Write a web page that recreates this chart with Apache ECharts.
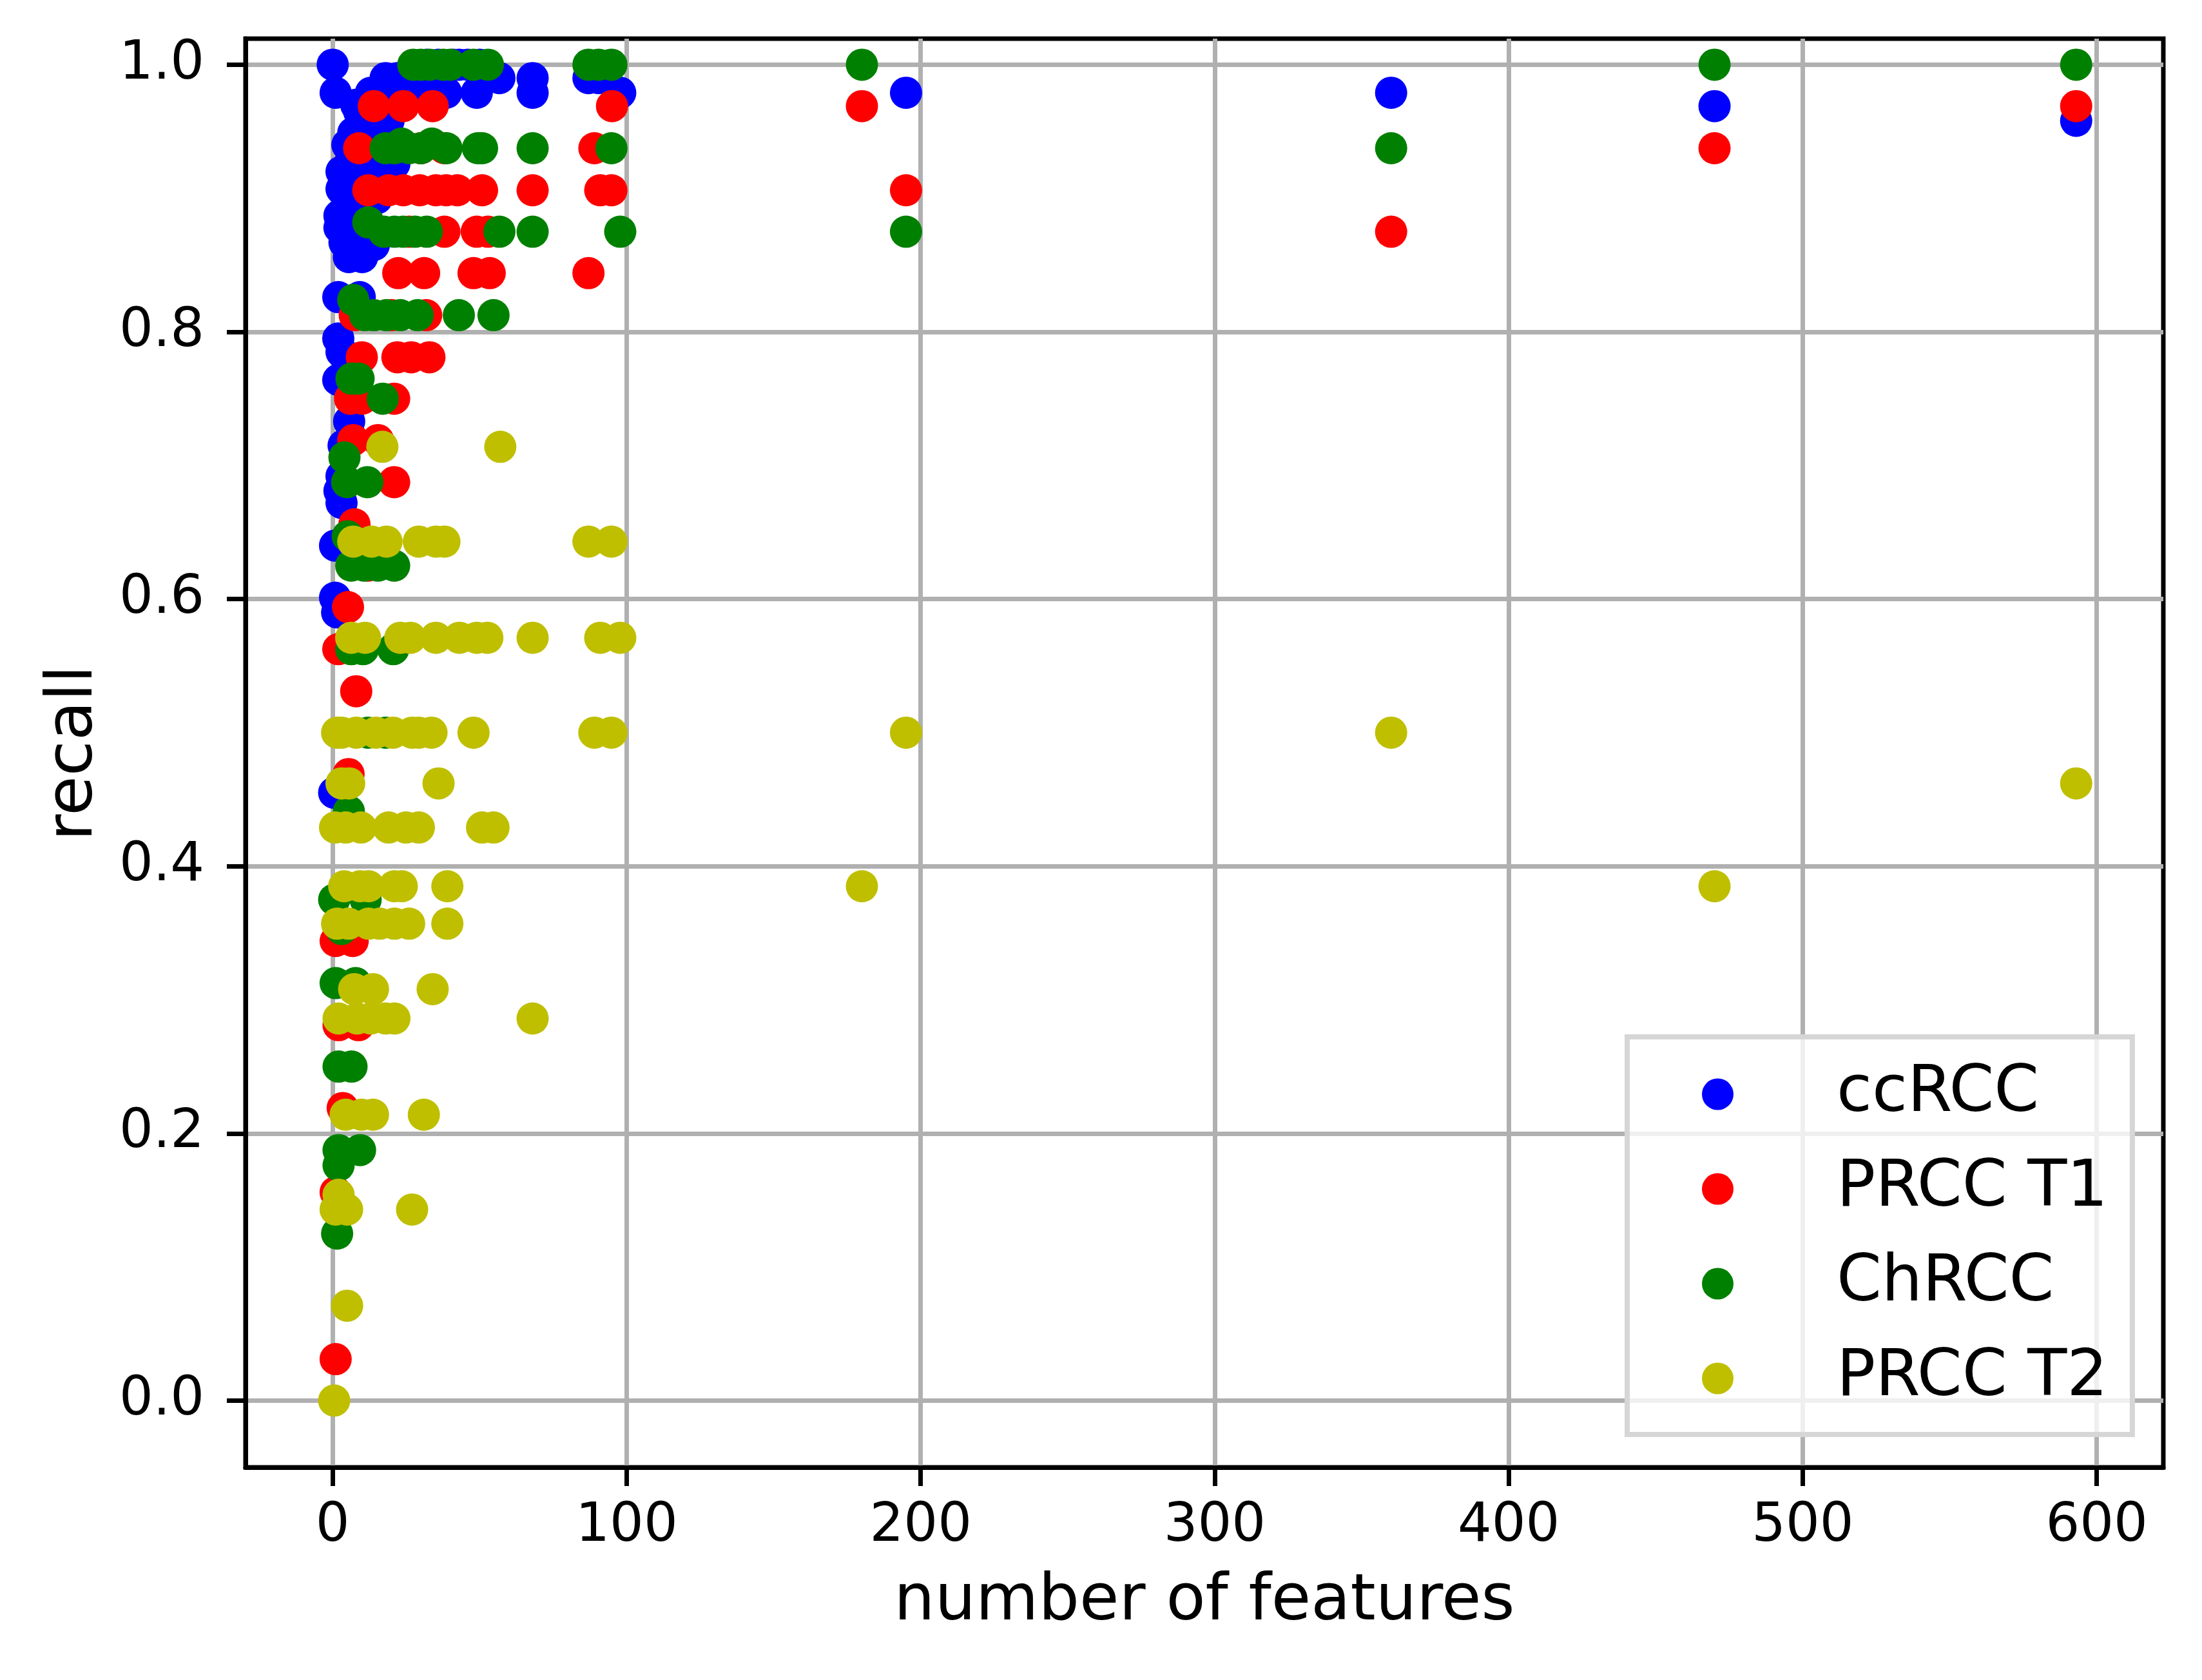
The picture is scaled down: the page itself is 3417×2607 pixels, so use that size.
<!DOCTYPE html>
<html style="height: 100%;width:100%">
<head>
<meta charset="utf-8">
</head>
<body style="height: 100%; width:100%; margin:0">
<div id="chart-panel" style="height: 2607px;width: 3417px"></div>
<script type="text/javascript" src="https://cdn.jsdelivr.net/npm/echarts@6.0.0/dist/echarts.min.js"></script>
<script type="text/javascript">
var seriesNames = ['ccRCC', 'PRCC T1', 'ChRCC', 'PRCC T2'];
var xTicks = [0, 100, 200, 300, 400, 500, 600];
var yTicks = [0.0, 0.2, 0.4, 0.6, 0.8, 1.0];

// [number of features, recall]
var ccRCC = [
	[0, 1.0], [1, 0.979],
	[32, 1.0], [36, 1.0], [41, 1.0], [43, 1.0], [46, 1.0], [50, 1.0],
	[18, 0.99], [22, 0.99], [27, 0.99], [56.7, 0.99], [68, 0.99], [87, 0.99], [90.4, 0.99],
	[13, 0.979], [15, 0.979], [20, 0.979], [25, 0.979], [30, 0.979], [34, 0.979], [38.6, 0.979],
	[49, 0.979], [68, 0.979], [97.8, 0.979],
	[8, 0.97], [11, 0.97], [9, 0.965], [12, 0.958], [19, 0.958], [15, 0.955], [10, 0.95], [7, 0.949],
	[5, 0.94], [17, 0.94], [6.3, 0.93], [10, 0.93], [14, 0.93], [20.9, 0.93], [21, 0.926], [3, 0.92],
	[12, 0.915], [8, 0.91], [3, 0.907], [15, 0.9], [10, 0.895], [6, 0.89], [2.3, 0.887], [12, 0.88],
	[2.3, 0.878], [8, 0.87], [4, 0.867], [14, 0.865], [5.5, 0.856], [10, 0.856],
	[1.9, 0.826], [9.2, 0.826], [1.9, 0.795], [3, 0.785], [1.9, 0.764], [5.6, 0.733], [3.7, 0.715],
	[3, 0.692], [2.3, 0.681], [3, 0.672], [0.8, 0.64], [0.8, 0.601], [1.5, 0.59], [0.5, 0.455],
	[195, 0.979], [360, 0.979], [470, 0.969], [593, 0.958]
];
var prccT1 = [
	[14, 0.969], [24, 0.969], [34, 0.969], [95, 0.969], [180, 0.969], [593, 0.969],
	[9, 0.9375], [30, 0.9375], [38, 0.9375], [89, 0.9375], [470, 0.9375],
	[12.1, 0.906], [19, 0.906], [24, 0.906], [29.6, 0.906], [35.1, 0.906], [38.6, 0.906], [42.4, 0.906],
	[50.8, 0.906], [68, 0.906], [91, 0.906], [94.8, 0.906], [195, 0.906],
	[26, 0.875], [38, 0.875], [49, 0.875], [52.8, 0.875], [360, 0.875],
	[22.3, 0.844], [31.1, 0.844], [47.9, 0.844], [53.4, 0.844], [87, 0.844],
	[7.5, 0.8125], [20, 0.8125], [31.8, 0.8125],
	[9.9, 0.781], [22, 0.781], [26.7, 0.781], [32.9, 0.781],
	[5.9, 0.75], [10, 0.75], [20.9, 0.75],
	[7, 0.719], [15.4, 0.719], [20.9, 0.6875], [7.4, 0.656], [12, 0.625], [5.2, 0.594],
	[1.9, 0.5625], [8, 0.531], [5.4, 0.469], [1, 0.344], [6.8, 0.344], [2, 0.281], [8.8, 0.281],
	[3.4, 0.219], [1, 0.156], [1, 0.031]
];
var chRCC = [
	[27.4, 1.0], [30, 1.0], [33, 1.0], [37.6, 1.0], [40, 1.0], [47.9, 1.0], [52.8, 1.0],
	[87, 1.0], [90.4, 1.0], [94.8, 1.0], [180, 1.0], [470, 1.0], [593, 1.0],
	[23.4, 0.941], [33.7, 0.941],
	[18, 0.9375], [21, 0.9375], [26, 0.9375], [30, 0.9375], [38.7, 0.9375], [49.4, 0.9375],
	[50.8, 0.9375], [68, 0.9375], [94.8, 0.9375], [360, 0.9375],
	[12.1, 0.882],
	[17.4, 0.875], [21, 0.875], [24, 0.875], [28, 0.875], [32, 0.875], [56.7, 0.875], [68, 0.875],
	[97.8, 0.875], [195, 0.875],
	[7, 0.824],
	[11, 0.8125], [14, 0.8125], [18.3, 0.8125], [23, 0.8125], [28.9, 0.8125], [42.9, 0.8125], [54.7, 0.8125],
	[6.4, 0.765], [8.8, 0.765], [17, 0.75], [4, 0.706], [4.9, 0.6875], [11.8, 0.6875], [5.1, 0.647],
	[6.3, 0.625], [10.7, 0.625], [15.4, 0.625], [20.9, 0.625],
	[6.3, 0.5625], [10.3, 0.5625], [20.6, 0.5625], [12, 0.5], [18, 0.5], [5.5, 0.441],
	[0.5, 0.375], [11.2, 0.375], [3, 0.353], [1, 0.3125], [7.8, 0.3125], [2, 0.25], [6.4, 0.25],
	[2, 0.1875], [9.3, 0.1875], [2, 0.176], [1.5, 0.125]
];
var prccT2 = [
	[16.9, 0.714], [57, 0.714],
	[7, 0.643], [13.2, 0.643], [18.3, 0.643], [29.3, 0.643], [35.1, 0.643], [38, 0.643], [87, 0.643], [94.8, 0.643],
	[6.3, 0.571], [11, 0.571], [23, 0.571], [26.4, 0.571], [35.1, 0.571], [43.1, 0.571], [49, 0.571],
	[52.6, 0.571], [68, 0.571], [91, 0.571], [97.8, 0.571],
	[1.5, 0.5], [3, 0.5], [8, 0.5], [14.7, 0.5], [20.5, 0.5], [27, 0.5], [29.3, 0.5], [33.6, 0.5],
	[47.9, 0.5], [89, 0.5], [94.8, 0.5], [195, 0.5], [360, 0.5],
	[3, 0.462], [5.6, 0.462], [36, 0.462], [593, 0.462],
	[0.8, 0.429], [4.4, 0.429], [9.6, 0.429], [19, 0.429], [24.9, 0.429], [29.3, 0.429], [50.8, 0.429], [54.7, 0.429],
	[3.9, 0.385], [9.3, 0.385], [12.2, 0.385], [21, 0.385], [23.5, 0.385], [39, 0.385], [180, 0.385], [470, 0.385],
	[1.5, 0.357], [5.4, 0.357], [12.2, 0.357], [16, 0.357], [21, 0.357], [26, 0.357], [39, 0.357],
	[7.3, 0.308], [13.7, 0.308], [34, 0.308],
	[2, 0.286], [8.3, 0.286], [13, 0.286], [18, 0.286], [21, 0.286], [68, 0.286],
	[4.4, 0.214], [9.8, 0.214], [13.7, 0.214], [31, 0.214],
	[2, 0.154], [1, 0.143], [4.9, 0.143], [27, 0.143], [4.9, 0.071], [0.5, 0.0]
];
var colors = ['#0000ff', '#ff0000', '#008000', '#bfbf00'];

var dom = document.getElementById("chart-panel");
var myChart = echarts.init(dom);
var font = 'DejaVu Sans';
var lw = 7;

var option = {
	backgroundColor: '#ffffff',
	animation: false,
	color: colors,
	grid: {
		left: 381,
		right: 60,
		top: 60,
		bottom: 330,
		show: true,
		borderColor: '#000',
		borderWidth: lw,
		backgroundColor: 'transparent'
	},
	legend: {
		orient: 'vertical',
		left: 2525,
		top: 1609,
		padding: [39, 38, 37, 116],
		itemGap: 47,
		itemWidth: 49,
		itemHeight: 49,
		icon: 'circle',
		backgroundColor: 'rgba(255,255,255,0.8)',
		borderColor: '#d6d6d6',
		borderWidth: 8,
		borderRadius: 0,
		textStyle: {
			fontFamily: font,
			fontSize: 100,
			color: '#000',
			padding: [0, 0, 0, 155]
		},
		data: seriesNames
	},
	xAxis: {
		type: 'value',
		min: -29.65,
		max: 622.65,
		name: 'number of features',
		nameLocation: 'middle',
		nameGap: 160,
		nameTextStyle: { fontFamily: font, fontSize: 100, color: '#000' },
		axisLine: { show: true, onZero: false, lineStyle: { color: '#000', width: lw } },
		axisTick: { show: true, length: 29, customValues: xTicks, lineStyle: { color: '#000', width: lw } },
		axisLabel: {
			customValues: xTicks,
			margin: 51,
			fontFamily: font,
			fontSize: 83,
			color: '#000'
		},
		splitLine: { show: true, lineStyle: { color: '#b0b0b0', width: lw } }
	},
	yAxis: {
		type: 'value',
		min: -0.05,
		max: 1.0195,
		name: 'recall',
		nameLocation: 'middle',
		nameGap: 215,
		nameTextStyle: { fontFamily: font, fontSize: 100, color: '#000' },
		axisLine: { show: true, onZero: false, lineStyle: { color: '#000', width: lw } },
		axisTick: { show: true, length: 29, customValues: yTicks, lineStyle: { color: '#000', width: lw } },
		axisLabel: {
			customValues: yTicks,
			margin: 64,
			fontFamily: font,
			fontSize: 83,
			color: '#000',
			formatter: function (v) { return v.toFixed(1); }
		},
		splitLine: { show: true, lineStyle: { color: '#b0b0b0', width: lw } }
	},
	series: [
		{ name: seriesNames[0], type: 'scatter', data: ccRCC, symbolSize: 50, itemStyle: { color: colors[0], opacity: 1 } },
		{ name: seriesNames[1], type: 'scatter', data: prccT1, symbolSize: 50, itemStyle: { color: colors[1], opacity: 1 } },
		{ name: seriesNames[2], type: 'scatter', data: chRCC, symbolSize: 50, itemStyle: { color: colors[2], opacity: 1 } },
		{ name: seriesNames[3], type: 'scatter', data: prccT2, symbolSize: 50, itemStyle: { color: colors[3], opacity: 1 } }
	]
};
myChart.setOption(option);
</script>
</body>
</html>
